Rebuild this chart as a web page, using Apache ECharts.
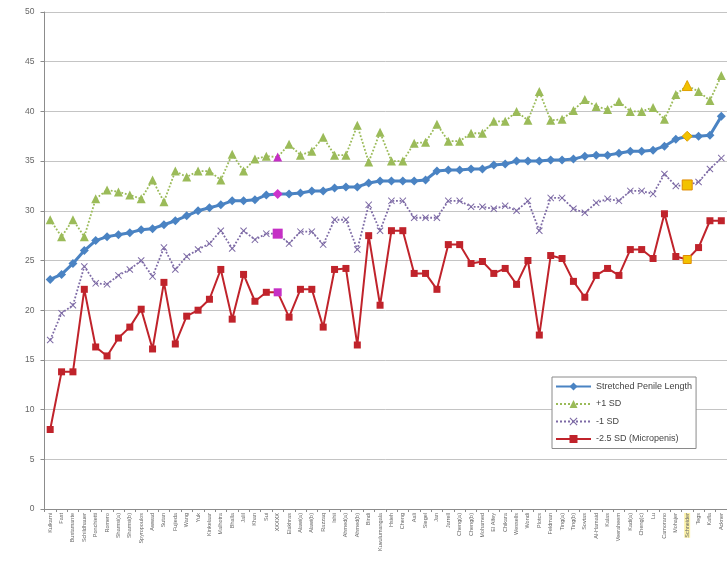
<!DOCTYPE html>
<html>
<head>
<meta charset="utf-8">
<script src="https://cdn.jsdelivr.net/npm/echarts@6/dist/echarts.min.js"></script>
<style>
html,body{margin:0;padding:0;background:#fff;}
#main{width:727px;height:569px;}
</style>
</head>
<body>
<div id="main"></div>
<script>
var studies = ['Kulkarni','Fast','Bustamante','Schildhauer','Ponchietti','Romero','Shamsi(a)','Shamsi(b)','Spyropoulos','Awwad',
    'Sutan','Fujieda','Wang','Yuk','Kinkelaar','Malhotra','Bhalla','Jalil','Khan','Sui',
    'XXXXX','Elakhras','Alawi(a)','Alawi(b)','Razzaq','Ishii','Ahmed(a)','Ahmed(b)','Bindi','Kuvulumangala',
    'Hsieh','Cheng','Aali','Siegel','Jan','Jarrell','Cheng(a)','Cheng(b)','Mohamed','El Alfey',
    'Chikara','Wessells','Wondi','Plotcs','Feldman','Ting(a)','Ting(b)','Sovtas','Al-Hamaid','Kalas',
    'Veeraheem','Kadi(a)','Cheng(c)','Lu','Camorano','Mohajer','Schneider','Tegs','Kafla','Ackner'];

var spl = [23.1,23.6,24.7,26.0,27.0,27.4,27.6,27.8,28.1,28.2,
    28.6,29.0,29.5,30.0,30.3,30.6,31.0,31.0,31.1,31.6,
    31.7,31.7,31.8,32.0,32.0,32.3,32.4,32.4,32.8,33.0,
    33.0,33.0,33.0,33.1,34.0,34.1,34.1,34.2,34.2,34.6,
    34.7,35.0,35.0,35.0,35.1,35.1,35.2,35.5,35.6,35.6,
    35.8,36.0,36.0,36.1,36.5,37.2,37.5,37.5,37.6,39.5];

var plus1sd = [29.1,27.4,29.1,27.4,31.2,32.1,31.9,31.6,31.2,33.1,
    30.9,34.0,33.4,34.0,34.0,33.1,35.7,34.0,35.2,35.5,
    35.4,36.7,35.6,36.0,37.4,35.6,35.6,38.6,34.9,37.9,
    35.0,35.0,36.8,36.9,38.7,37.0,37.0,37.8,37.8,39.0,
    39.0,40.0,39.1,42.0,39.1,39.2,40.1,41.2,40.5,40.2,
    41.0,40.0,40.0,40.4,39.2,41.7,42.6,42.0,41.1,43.6];

var minus1sd = [17.0,19.7,20.5,24.4,22.7,22.6,23.5,24.1,25.0,23.4,
    26.3,24.1,25.4,26.1,26.7,28.0,26.2,28.0,27.1,27.7,
    27.7,26.7,27.9,27.9,26.6,29.1,29.1,26.1,30.6,28.0,
    31.0,31.0,29.3,29.3,29.3,31.0,31.0,30.4,30.4,30.2,
    30.5,30.0,31.0,28.0,31.3,31.3,30.2,29.8,30.8,31.2,
    31.0,32.0,32.0,31.7,33.7,32.5,32.6,32.9,34.2,35.3];

var minus25sd = [8.0,13.8,13.8,22.1,16.3,15.4,17.2,18.3,20.1,16.1,
    22.8,16.6,19.4,20.0,21.1,24.1,19.1,23.6,20.9,21.8,
    21.8,19.3,22.1,22.1,18.3,24.1,24.2,16.5,27.5,20.5,
    28.0,28.0,23.7,23.7,22.1,26.6,26.6,24.7,24.9,23.7,
    24.2,22.6,25.0,17.5,25.5,25.2,22.9,21.3,23.5,24.2,
    23.5,26.1,26.1,25.2,29.7,25.4,25.1,26.3,29.0,29.0];

var yTicks = [0,5,10,15,20,25,30,35,40,45,50];

// highlighted studies
var pinkIdx = 20;
var goldIdx = 56;

function mark(values, pinkStyle, goldStyle) {
    return values.map(function (v, i) {
        if (i === pinkIdx) return {value: v, symbol: pinkStyle.symbol, symbolSize: pinkStyle.size, itemStyle: pinkStyle.itemStyle};
        if (i === goldIdx) return {value: v, symbol: goldStyle.symbol, symbolSize: goldStyle.size, itemStyle: goldStyle.itemStyle};
        return v;
    });
}

var xPath = 'path://M0,1L1,0L5,4L9,0L10,1L6,5L10,9L9,10L5,6L1,10L0,9L4,5Z';

var chartDom = document.getElementById('main');
var mychart = echarts.init(chartDom, null, {renderer: 'canvas'});
var option = {
    animation: false,
    backgroundColor: '#fff',
    grid: {left: 44.5, right: 0, top: 12, bottom: 60},
    legend: {
        orient: 'vertical',
        left: 552,
        top: 377,
        backgroundColor: '#fff',
        borderColor: '#8a8a8a',
        borderWidth: 1,
        borderRadius: 0,
        padding: [5, 4, 5, 3],
        itemGap: 8.5,
        itemWidth: 35,
        itemHeight: 10,
        textStyle: {fontFamily: 'Liberation Sans', fontSize: 9, color: '#444'},
        data: ['Stretched Penile Length', '+1 SD', '-1 SD', '-2.5 SD (Micropenis)']
    },
    xAxis: {
        type: 'category',
        boundaryGap: true,
        data: studies,
        axisLine: {lineStyle: {color: '#8c8c8c'}},
        axisTick: {show: true, length: 3, lineStyle: {color: '#8c8c8c'}},
        axisLabel: {
            interval: 0,
            rotate: 90,
            margin: 4,
            fontFamily: 'Liberation Sans',
            fontSize: 5.5,
            color: '#666',
            formatter: function (value, idx) {
                return idx === goldIdx ? '{hl|' + value + '}' : value;
            },
            rich: {hl: {backgroundColor: '#fbf1a8', fontSize: 5.5, color: '#666'}}
        }
    },
    yAxis: {
        type: 'value',
        min: yTicks[0],
        max: yTicks[yTicks.length - 1],
        interval: 5,
        axisLine: {show: true, lineStyle: {color: '#8c8c8c'}},
        axisTick: {show: true, length: 4, lineStyle: {color: '#8c8c8c'}},
        axisLabel: {fontFamily: 'Liberation Sans', fontSize: 8.5, color: '#666', margin: 10},
        splitLine: {lineStyle: {color: '#c4c4c4', width: 1}}
    },
    series: [
        {
            name: 'Stretched Penile Length',
            type: 'line',
            symbol: 'diamond',
            symbolSize: 9,
            z: 4,
            lineStyle: {color: '#4a83c3', width: 3},
            itemStyle: {color: '#4a83c3'},
            data: mark(spl,
                {symbol: 'diamond', size: 10, itemStyle: {color: '#cc33cc'}},
                {symbol: 'diamond', size: 10, itemStyle: {color: '#f2c200', borderColor: '#e0a000', borderWidth: 1}})
        },
        {
            name: '+1 SD',
            type: 'line',
            symbol: 'triangle',
            symbolSize: 9,
            lineStyle: {color: '#9bbb59', width: 1.8, type: 'dotted'},
            itemStyle: {color: '#9bbb59'},
            data: mark(plus1sd,
                {symbol: 'triangle', size: 9, itemStyle: {color: '#c52fc5'}},
                {symbol: 'triangle', size: 10, itemStyle: {color: '#f2c200', borderColor: '#e0a000', borderWidth: 1}})
        },
        {
            name: '-1 SD',
            type: 'line',
            symbol: xPath,
            symbolSize: 7,
            lineStyle: {color: '#7d6aa5', width: 1.8, type: 'dotted'},
            itemStyle: {color: '#7d6aa5'},
            data: mark(minus1sd,
                {symbol: 'rect', size: 10, itemStyle: {color: '#c52fc5'}},
                {symbol: 'rect', size: 10, itemStyle: {color: '#f2c200', borderColor: '#e08a00', borderWidth: 1}})
        },
        {
            name: '-2.5 SD (Micropenis)',
            type: 'line',
            symbol: 'rect',
            symbolSize: 7,
            lineStyle: {color: '#c0232b', width: 2},
            itemStyle: {color: '#c0232b'},
            data: mark(minus25sd,
                {symbol: 'rect', size: 8, itemStyle: {color: '#c52fc5'}},
                {symbol: 'rect', size: 8, itemStyle: {color: '#f2c200', borderColor: '#e08a00', borderWidth: 1}})
        }
    ]
};
mychart.setOption(option);
</script>
</body>
</html>
